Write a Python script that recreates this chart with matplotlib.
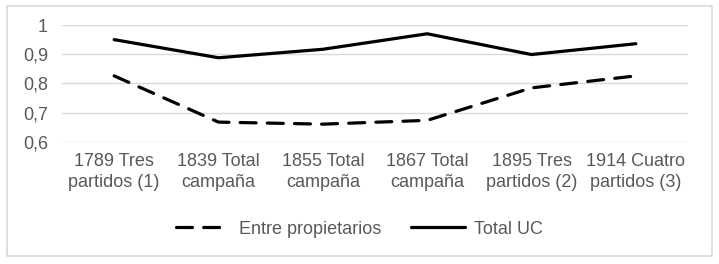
import matplotlib as mpl
mpl.use('Agg')
import matplotlib.pyplot as plt
from matplotlib.patches import Rectangle
from matplotlib.ticker import FuncFormatter

plt.rcParams['font.family'] = ['Liberation Sans', 'DejaVu Sans']

categories = ['1789 Tres\npartidos (1)', '1839 Total\ncampaña', '1855 Total\ncampaña',
              '1867 Total\ncampaña', '1895 Tres\npartidos (2)', '1914 Cuatro\npartidos (3)']
entre_propietarios = [0.826, 0.668, 0.661, 0.674, 0.785, 0.826]
total_uc = [0.950, 0.888, 0.917, 0.970, 0.899, 0.936]
yticks = [0.6, 0.7, 0.8, 0.9, 1.0]

fig = plt.figure(figsize=(7.19, 2.64), dpi=100)
ax = fig.add_axes([62 / 719, 1 - 142 / 264, 626 / 719, 117 / 264])

x = list(range(len(categories)))
ax.plot(x, entre_propietarios, color='black', lw=2.3, dashes=(5, 3.5),
        dash_capstyle='round', label='Entre propietarios')
ax.plot(x, total_uc, color='black', lw=2.3, solid_capstyle='round',
        label='Total UC')

ax.set_xlim(-0.5, len(categories) - 0.5)
ax.set_ylim(0.6, 1.0)
ax.set_yticks(yticks)
ax.yaxis.set_major_formatter(FuncFormatter(lambda v, p: ('%g' % round(v, 2)).replace('.', ',')))
ax.set_xticks(x)
ax.set_xticklabels(categories, linespacing=1.3)
ax.grid(axis='y', color='#d9d9d9', lw=1)
ax.set_axisbelow(True)
for s in ax.spines.values():
    s.set_visible(False)
ax.tick_params(axis='both', length=0, labelsize=13, colors='#595959')
ax.tick_params(axis='y', pad=10)
ax.tick_params(axis='x', pad=8)

leg = fig.legend(loc='center', bbox_to_anchor=(0.5, 1 - 229 / 264), ncol=2,
                 frameon=False, fontsize=13, handlelength=3.0, columnspacing=1.6,
                 handletextpad=0.5)
for t in leg.get_texts():
    t.set_color('#595959')

fig.patches.append(Rectangle((7 / 719, 1 - 256 / 264), 705 / 719, 250 / 264,
                             transform=fig.transFigure, fill=False,
                             edgecolor='#d9d9d9', lw=1.2))

fig.savefig('out.png', dpi=100, facecolor='white')
